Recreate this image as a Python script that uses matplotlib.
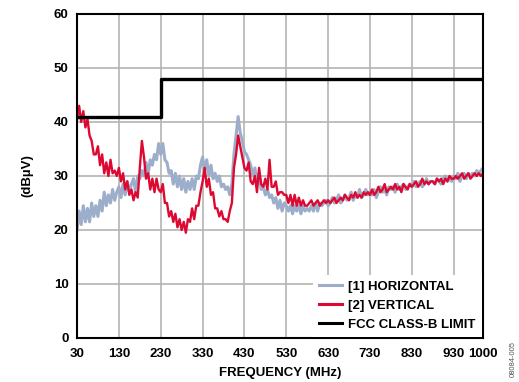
import matplotlib
matplotlib.use("Agg")
import matplotlib.pyplot as plt
import numpy as np

plt.rcParams['font.family'] = ['Liberation Sans', 'DejaVu Sans']
plt.rcParams['font.weight'] = 'bold'

# sweep frequencies (MHz), 5 MHz steps
freq = np.arange(30, 1001, 5)

# [1] horizontal trace (dBuV)
horizontal = [
    20, 23.5, 21, 24.5, 21.5, 24, 21.5, 25, 22.5, 24.5,
    22.5, 25.5, 23.5, 27, 24.5, 26.5, 25, 27.5, 25.5, 27,
    28, 26, 28.5, 26.5, 29, 27, 28.5, 29.5, 27, 30,
    29.5, 31, 30, 32.5, 30.5, 33, 32, 34, 33, 36,
    34, 36, 33, 32.5, 30.5, 31, 28.5, 30.5, 28, 30,
    27.5, 29.5, 27, 29, 27.5, 29.5, 27.5, 30, 29.5, 32,
    33.5, 31, 33, 30, 32, 29.5, 30.5, 29, 30, 28,
    28.5, 27.5, 28, 26.5, 28.5, 34, 37.5, 41, 38, 36.5,
    34.5, 34, 33, 32, 30, 31.5, 28.5, 30.5, 27.5, 28,
    26.5, 27.5, 26, 26.5, 25, 26, 24, 25.5, 23.5, 25,
    24.5, 23.5, 24.5, 23, 24.5, 23.5, 24.5, 23, 24.5, 23.5,
    24, 23.5, 24.5, 23.5, 25, 23.5, 25, 24.5, 25, 25.5,
    24.5, 25, 26, 25, 25.5, 26.5, 25, 25.5, 26.5, 25.5,
    26, 27, 25.5, 26.5, 26, 27.5, 26, 26.5, 27.5, 26.5,
    27, 26.5, 27.5, 26, 27, 28, 27, 27.5, 26.5, 28,
    27.5, 28, 27, 28.5, 27.5, 28, 28.5, 27.5, 28, 28.5,
    28, 29, 28, 28.5, 29, 28, 28.5, 29.5, 28.5, 29,
    29, 28.5, 29.5, 29, 28.5, 29.5, 30, 29, 29.5, 29,
    30, 29.5, 30.5, 29, 30, 30.5, 29.5, 30.5, 30, 30.5,
    30, 31, 30.5, 31, 31.5,
]

# [2] vertical trace (dBuV)
vertical = [
    40.5, 43, 40, 42, 39, 40.5, 37.5, 36.5, 34, 34,
    35.5, 32, 34, 30.5, 32.5, 30, 33, 30.5, 31, 30,
    31.5, 29, 30.5, 27.5, 29, 26.5, 27.5, 25.5, 27, 26,
    31.5, 36.5, 33.5, 29.5, 30.5, 27.5, 29.5, 27, 29.5, 27.5,
    27, 28.5, 25, 25, 22.5, 23.5, 21.5, 23, 20.5, 22,
    20, 21.5, 19.5, 22, 21.5, 24, 22, 24.5, 24.5, 27,
    29, 31.5, 28, 29.5, 26.5, 27, 24, 24, 22.5, 23.5,
    22, 22, 21.5, 23.5, 25, 31.5, 34, 37.5, 35.5, 33.5,
    31.5, 31, 32.5, 29, 28.5, 30, 27, 31.5, 28.5, 28,
    29.5, 27.5, 33, 28, 28, 29, 26.5, 27, 27, 26.5,
    26.5, 25, 26.5, 24.5, 26.5, 24.5, 26, 24.5, 25.5, 24.5,
    24.5, 25, 25.5, 24.5, 25, 25.5, 24.5, 25, 25.5, 25,
    25.5, 25, 25.5, 26, 25, 25.5, 26, 25.5, 26.5, 26,
    25.5, 26.5, 26, 27, 26, 26.5, 26, 27, 26.5, 27,
    26.5, 27.5, 26.5, 27, 28, 27, 27.5, 28.5, 27, 27.5,
    28, 27.5, 28.5, 27.5, 28, 27, 28.5, 28, 27.5, 28.5,
    28, 28.5, 29, 28, 28.5, 29.5, 28.5, 29, 28.5, 29,
    29, 28.5, 29.5, 29, 29.5, 28.5, 29.5, 29, 30, 29.5,
    29.5, 30, 29.5, 30, 30.5, 29.5, 30, 30.5, 29.5, 30,
    30.5, 30, 30.5, 30, 30.5,
]

# FCC class-B limit, step at 230 MHz
limit_f = [30, 230, 230, 1000]
limit_v = [41, 41, 48, 48]

xticks = [30, 130, 230, 330, 430, 530, 630, 730, 830, 930, 1000]

fig = plt.figure(figsize=(5.19, 3.82), dpi=100)
ax = fig.add_axes([0.1484, 0.1152, 0.7822, 0.8482])

ax.plot(freq, horizontal, '-', color="#9daecb", lw=2.2, label='[1] HORIZONTAL')
ax.plot(freq, vertical, '-', color="#dc0a32", lw=1.7, label='[2] VERTICAL')
ax.plot(limit_f, limit_v, '-', color="black", lw=2.4, label='FCC CLASS-B LIMIT')

ax.set_xlim(30, 1000)
ax.set_ylim(0, 60)
ax.set_xticks(xticks)
ax.set_yticks(range(0, 61, 10))
ax.tick_params(axis='x', length=0, labelsize=9.5, pad=7)
ax.tick_params(axis='y', length=0, labelsize=9.5, pad=6)
ax.grid(True, color="#b4b4b4", lw=1.2)
ax.set_axisbelow(True)
for s in ax.spines.values():
    s.set_linewidth(1.5)
    s.set_color("black")

ax.set_xlabel('FREQUENCY (MHz)', fontsize=9.5, fontweight='bold')
ax.xaxis.set_label_coords(0.5, -0.088)
ax.set_ylabel('(dBµV)', fontsize=9.5, fontweight='bold', labelpad=15)

leg = ax.legend(loc='lower right', fontsize=9.5, frameon=True, fancybox=False,
                borderaxespad=0.1, handlelength=1.8, labelspacing=0.5,
                borderpad=0.45, handletextpad=0.45)
leg.get_frame().set_edgecolor('none')
leg.get_frame().set_facecolor('white')
leg.get_frame().set_alpha(1)
for h in leg.get_lines():
    h.set_linewidth(2.2)

fig.text(0.988, 0.06, '08084-005', rotation=90, fontsize=5.5, color='#555555',
         fontweight='normal', ha='center', va='center')

fig.savefig('out.png', dpi=100)
